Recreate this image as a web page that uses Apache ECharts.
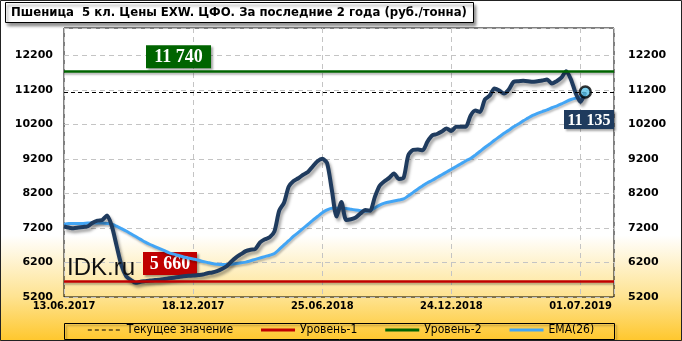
<!DOCTYPE html>
<html><head><meta charset="utf-8">
<script src="https://cdn.jsdelivr.net/npm/echarts@6/dist/echarts.min.js"></script>
<style>html,body{margin:0;padding:0;background:#fff}#c{width:682px;height:341px}</style>
</head><body><div id="c"></div>
<script>
const titleText = 'Пшеница  5 кл. Цены EXW. ЦФО. За последние 2 года (руб./тонна)';
const tickLabels = ['13.06.2017','18.12.2017','25.06.2018','24.12.2018','01.07.2019'];
const tickStep = 27;
const axisWeeks = 115;
const price = [7240,7210,7190,7210,7230,7250,7350,7410,7430,7560,
  7250,6680,6120,5800,5690,5610,5640,5660,5680,5690,
  5700,5720,5740,5760,5780,5800,5815,5820,5835,5850,
  5890,5910,5950,6010,6090,6230,6350,6440,6530,6570,
  6590,6780,6870,6930,7100,7700,7930,8400,8560,8640,
  8740,8820,8980,9130,9200,9080,8300,7530,7950,7430,
  7450,7500,7620,7720,7700,8100,8420,8550,8650,8780,
  8620,8650,9310,9460,9470,9450,9700,9880,9920,9990,
  10080,10010,10130,10130,10130,10450,10600,10560,10920,11030,
  11240,11180,11090,11210,11430,11450,11460,11450,11430,11450,
  11470,11500,11380,11450,11550,11740,11500,11100,10850,11135];
const ema = [7310,7330,7330,7330,7330,7340,7340,7340,7340,7330,
  7310,7250,7180,7110,7030,6950,6870,6790,6720,6660,
  6600,6540,6480,6440,6400,6360,6330,6300,6270,6230,
  6200,6170,6150,6140,6140,6150,6170,6190,6210,6250,
  6290,6330,6370,6410,6460,6580,6710,6830,6960,7070,
  7190,7300,7420,7530,7640,7720,7770,7770,7770,7760,
  7740,7720,7700,7680,7700,7780,7860,7920,7950,7980,
  8010,8040,8130,8230,8330,8420,8510,8580,8660,8740,
  8820,8900,8980,9060,9140,9210,9310,9420,9530,9630,
  9740,9840,9940,10030,10130,10210,10300,10380,10460,10520,
  10570,10620,10680,10730,10790,10860,10920,10960,10990,11010];
const level1 = 5660;
const level2 = 11740;
const currentValue = price[price.length - 1];
const yMin = 5200, yMax = 12990, yStep = 1000;

const fmt = v => String(v).replace(/\B(?=(\d{3})+(?!\d))/g, ' ');
const chart = echarts.init(document.getElementById('c'), null, {renderer: 'canvas'});
const G = echarts.graphic;
const lastIdx = price.length - 1;

const solidIcon = 'path://M0,0H34V3H0Z';
const dashIcon = 'path://M0,1H4V2H0ZM7,1H11V2H7ZM14,1H18V2H14ZM21,1H25V2H21ZM28,1H32V2H28ZM0,0H0.01V3H0ZM34,0H34.01V3H34Z';

const option = {
  animation: false,
  backgroundColor: new G.LinearGradient(0, 0, 0, 1, [
    {offset: 0, color: '#ffffff'}, {offset: 0.69, color: '#ffffff'},
    {offset: 0.87, color: '#FEE391'}, {offset: 1, color: '#FFC72C'}]),
  title: {
    text: titleText, left: 5, top: 2,
    backgroundColor: '#fff', borderColor: '#000', borderWidth: 1,
    padding: [3, 7, 3, 6],
    shadowBlur: 3, shadowColor: 'rgba(0,0,0,0.45)', shadowOffsetX: 2, shadowOffsetY: 3,
    textStyle: {fontFamily: 'DejaVu Sans Condensed', fontWeight: 'bold', fontSize: 13, color: '#000', lineHeight: 15}
  },
  grid: {left: 64, top: 28, width: 550, height: 269, show: true, borderColor: '#000', borderWidth: 1, backgroundColor: 'transparent'},
  legend: {
    data: [
      {name: 'Текущее значение', icon: dashIcon},
      {name: 'Уровень-1', icon: solidIcon},
      {name: 'Уровень-2', icon: solidIcon},
      {name: 'EMA(26)', icon: solidIcon}
    ],
    left: 'center', top: 324, padding: 0, itemWidth: 34, itemHeight: 14, itemGap: 28,
    textStyle: {fontFamily: 'DejaVu Sans Condensed', fontSize: 12, color: '#000'}
  },
  xAxis: {
    type: 'value', min: 0, max: axisWeeks, interval: tickStep,
    axisLine: {show: false}, axisTick: {show: false},
    axisLabel: {
      margin: 4, showMaxLabel: true,
      fontFamily: 'DejaVu Sans Condensed', fontWeight: 'bold', fontSize: 11, color: '#000',
      formatter: v => (v % tickStep === 0 && tickLabels[v / tickStep]) ? tickLabels[v / tickStep] : ''
    },
    splitLine: {show: true, lineStyle: {color: '#c4c4c4', type: [5, 4], width: 1}}
  },
  yAxis: [{
    type: 'value', min: yMin, max: yMax, interval: yStep, position: 'left',
    axisLine: {show: false}, axisTick: {show: false},
    axisLabel: {margin: 11, fontFamily: 'DejaVu Sans', fontWeight: 'bold', fontSize: 11, color: '#000',
      formatter: v => ((v - yMin) % yStep === 0 ? String(v) : '')},
    splitLine: {show: true, lineStyle: {color: '#c4c4c4', type: [5, 4], width: 1}}
  }, {
    type: 'value', min: yMin, max: yMax, interval: yStep, position: 'right',
    axisLine: {show: false}, axisTick: {show: false},
    axisLabel: {margin: 14, fontFamily: 'DejaVu Sans', fontWeight: 'bold', fontSize: 11, color: '#000',
      formatter: v => ((v - yMin) % yStep === 0 ? String(v) : '')},
    splitLine: {show: false}
  }],
  series: [
    {
      name: 'Текущее значение', type: 'line', data: [], symbol: 'none',
      itemStyle: {color: '#000'}, lineStyle: {color: '#000', width: 1, type: [4, 3]},
      markLine: {silent: true, symbol: ['none', 'none'], label: {show: false},
        lineStyle: {color: '#000', width: 1, type: [4, 3]}, data: [{yAxis: currentValue}]}
    },
    {
      name: 'Уровень-1', type: 'line', data: [], symbol: 'none',
      itemStyle: {color: '#C00000'}, lineStyle: {color: '#C00000', width: 3},
      markLine: {silent: true, symbol: ['none', 'none'], label: {show: false},
        lineStyle: {color: '#C00000', width: 2.5, type: 'solid', shadowBlur: 2, shadowColor: 'rgba(0,0,0,0.3)', shadowOffsetY: 2},
        data: [{yAxis: level1}]}
    },
    {
      name: 'Уровень-2', type: 'line', data: [], symbol: 'none',
      itemStyle: {color: '#006400'}, lineStyle: {color: '#006400', width: 3},
      markLine: {silent: true, symbol: ['none', 'none'], label: {show: false},
        lineStyle: {color: '#006400', width: 2.5, type: 'solid', shadowBlur: 2, shadowColor: 'rgba(0,0,0,0.3)', shadowOffsetY: 2},
        data: [{yAxis: level2}]}
    },
    {
      name: 'EMA(26)', type: 'line', symbol: 'none', smooth: 0.3, z: 3,
      data: ema.map((v, i) => [i, v]),
      itemStyle: {color: '#42A5F5'},
      lineStyle: {color: '#42A5F5', width: 3, shadowBlur: 2, shadowColor: 'rgba(0,0,0,0.25)', shadowOffsetX: 1, shadowOffsetY: 2}
    },
    {
      name: 'Цена', type: 'line', symbol: 'none', smooth: 0.25, z: 4,
      data: price.map((v, i) => [i, v]),
      itemStyle: {color: '#1F3B5E'},
      lineStyle: {color: '#1F3B5E', width: 4, shadowBlur: 3, shadowColor: 'rgba(0,0,0,0.35)', shadowOffsetX: 2, shadowOffsetY: 3}
    },
    {
      name: 'marker', type: 'scatter', z: 6, symbol: 'circle', symbolSize: 11,
      data: [[lastIdx, currentValue]],
      itemStyle: {color: '#5BC3E8', borderColor: '#000', borderWidth: 2.5}
    }
  ]
};
chart.setOption(option);

function py(v) { return chart.convertToPixel({yAxisIndex: 0}, v); }
function box(x, y, w, h, bg, txt, fs) {
  return {
    type: 'group', x: x, y: y, z: 100,
    children: [
      {type: 'rect', shape: {x: 0, y: 0, width: w, height: h},
        style: {fill: bg, shadowBlur: 2, shadowColor: 'rgba(0,0,0,0.35)', shadowOffsetX: 2, shadowOffsetY: 2}},
      {type: 'text', x: w / 2, y: h / 2 + 1,
        style: {text: txt, fill: '#fff', font: 'bold ' + fs + 'px "Liberation Serif"', textAlign: 'center', textVerticalAlign: 'middle'}}
    ]
  };
}
const y1 = py(level1), y2 = py(level2), yc = py(currentValue);
chart.setOption({
  graphic: [
    {type: 'rect', z: 100, shape: {x: 0.5, y: 0.5, width: 681, height: 340}, style: {fill: 'none', stroke: '#222', lineWidth: 1}},
    {type: 'rect', z: 1, shape: {x: 64.5, y: 323.5, width: 550, height: 16},
      style: {fill: 'none', stroke: '#000', lineWidth: 1, shadowBlur: 2, shadowColor: 'rgba(0,0,0,0.3)', shadowOffsetX: 2, shadowOffsetY: 2}},
    box(146, y2 - 26, 65, 23, '#006400', fmt(level2), 18),
    box(143, y1 - 29, 54, 23, '#C00000', fmt(level1), 18),
    box(564, yc + 18, 50, 19, '#1F3B5E', fmt(currentValue), 16),
    {type: 'text', z: 100, x: 67, y: 268, style: {text: 'IDK.ru', fill: '#111', font: '24px "Liberation Sans"', textVerticalAlign: 'middle'}}
  ]
});
</script></body></html>
